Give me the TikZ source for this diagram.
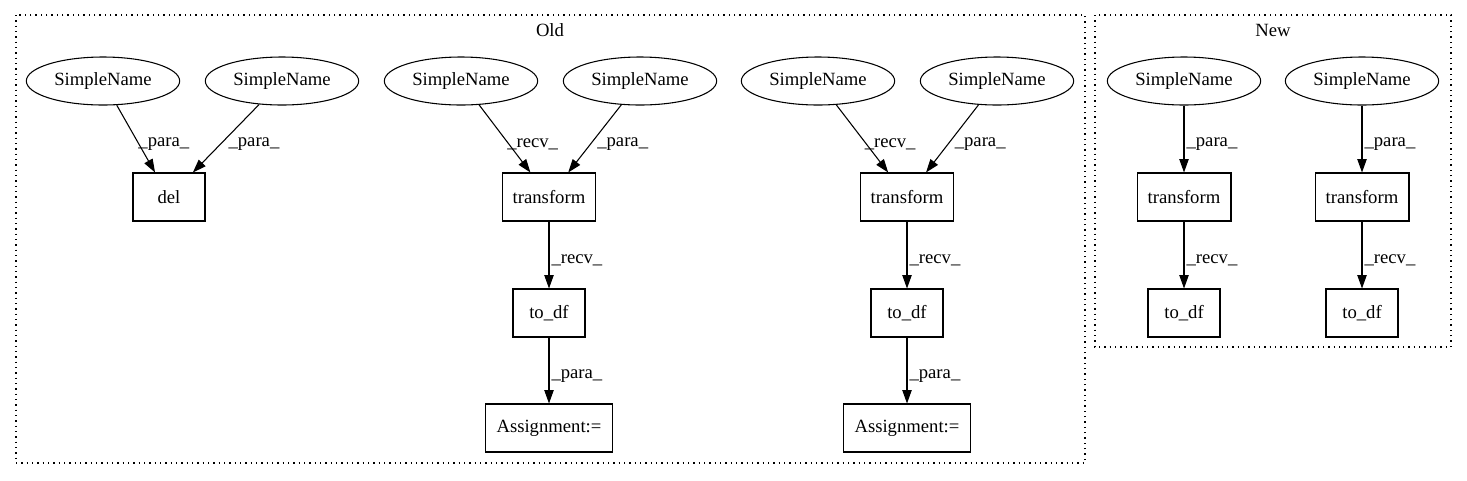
\documentclass[tikz,border=0pt]{standalone}
\usepackage{fontspec}
\setmainfont{Liberation Serif}
\usetikzlibrary{arrows.meta,shapes.geometric,quotes}

\begin{document}
\begin{tikzpicture}[x=0.75pt,y=-0.75pt,font=\fontsize{14}{16}\selectfont,
	sname/.style={ellipse,draw,line width=0.8pt,minimum width=115pt,minimum height=36pt,inner sep=0pt},
	call/.style={rectangle,draw,line width=0.8pt,minimum width=54pt,minimum height=36pt,inner xsep=8pt},
	flow/.style={-{Triangle[length=10pt,width=7pt]},line width=0.8pt},
	cluster/.style={draw,line width=1pt,dash pattern=on 1pt off 3pt},
	every edge quotes/.style={right,inner sep=1.5pt,yshift=-4pt}]
				\useasboundingbox (0,0) rectangle (1467,480);
				% clusters
				\draw[cluster] (16,15) rectangle (1085,463);
				\draw[cluster] (1095,15) rectangle (1451,347);
				\path 
				(550,30) node(old) {Old}
				(1273,30) node(new) {New};
				% old
				\path 
				(103,81) node(sn1) [sname] {SimpleName}
				(282,81) node(sn2) [sname] {SimpleName}
				(461,81) node(sn3) [sname] {SimpleName}
				(640,81) node(sn4) [sname] {SimpleName}
				(818,81) node(sn5) [sname] {SimpleName}
				(997,81) node(sn6) [sname] {SimpleName}
				(169,197) node(del) [call] {del}
				(549,197) node(tr1) [call] {transform}
				(907,197) node(tr2) [call] {transform}
				(549,313) node(df1) [call] {to\_df}
				(907,313) node(df2) [call] {to\_df}
				(549,428) node(as1) [call] {Assignment:=}
				(907,428) node(as2) [call] {Assignment:=};
				% new
				\path 
				(1184,81) node(sn7) [sname] {SimpleName}
				(1362,81) node(sn8) [sname] {SimpleName}
				(1184,197) node(tr3) [call] {transform}
				(1362,197) node(tr4) [call] {transform}
				(1184,313) node(df3) [call] {to\_df}
				(1362,313) node(df4) [call] {to\_df};
				\draw   
				(sn1) edge[flow,"\_para\_"] (del) 
				(sn2) edge[flow,"\_para\_"] (del)
				(sn3) edge[flow,"\_recv\_"] (tr1)
				(sn4) edge[flow,"\_para\_"] (tr1)
				(sn5) edge[flow,"\_recv\_"] (tr2)
				(sn6) edge[flow,"\_para\_"] (tr2)
				(tr1) edge[flow,"\_recv\_"] (df1)
				(tr2) edge[flow,"\_recv\_"] (df2)
				(df1) edge[flow,"\_para\_"] (as1)
				(df2) edge[flow,"\_para\_"] (as2)
				(sn7) edge[flow,"\_para\_"] (tr3)
				(sn8) edge[flow,"\_para\_"] (tr4)
				(tr3) edge[flow,"\_recv\_"] (df3)
				(tr4) edge[flow,"\_recv\_"] (df4);
			\end{tikzpicture}
\end{document}
